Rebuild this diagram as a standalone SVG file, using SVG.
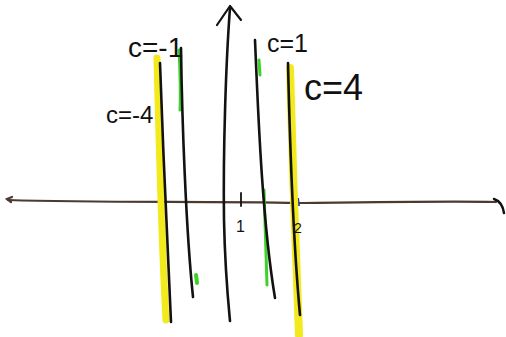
<svg xmlns="http://www.w3.org/2000/svg" width="506" height="337" viewBox="0 0 506 337">
<style>
.ink{fill:none;stroke:#141210;stroke-linecap:round;stroke-linejoin:round}
.axis{fill:none;stroke:#4a3a30;stroke-width:2.2;stroke-linecap:round}
.yel{fill:none;stroke:#f2ea1c;stroke-linecap:round}
.grn{fill:none;stroke:#3ed12a;stroke-linecap:round}
.lbl{font-family:"Liberation Sans","DejaVu Sans",sans-serif;fill:#111}
</style>
<rect width="506" height="337" fill="#fff"/>
<g id="x-axis">
<path class="axis" d="M8,200 C100,203 200,201 300,203 C380,202 450,201 496,202"/>
<path class="axis" d="M12,197 L7,199 L11,202"/>
<path class="ink" stroke-width="2.5" d="M494,199 C500,201 503,206 504,213"/>
<path class="ink" stroke-width="1.8" d="M241,193 L241,206"/>
<path stroke="#2a3aa0" stroke-width="2" d="M298,198 L299,206"/>
</g>
<g id="y-axis">
<path class="ink" stroke-width="2.6" d="M230,8 C226,60 223,150 224,220 C225,270 228,300 230,321"/>
<path class="ink" stroke-width="2.2" d="M217,25 L230,6 L241,20"/>
</g>
<g id="curve-c-neg4">
<path class="yel" stroke-width="7" d="M157,58 C159,140 162,250 166,320"/>
<path class="ink" stroke-width="2.6" d="M160,63 C163,150 168,260 171,322"/>
</g>
<g id="curve-c-neg1">
<path class="grn" stroke-width="3" d="M179,50 C180,70 181,90 180,110"/>
<path class="grn" stroke-width="4" d="M196,275 L197,283"/>
<path class="ink" stroke-width="2.6" d="M181,48 C182,120 186,230 193,297"/>
</g>
<g id="curve-c-1">
<path class="grn" stroke-width="3" d="M259,60 L260,75"/>
<path class="grn" stroke-width="3" d="M264,190 C265,230 266,260 267,285"/>
<path class="ink" stroke-width="2.6" d="M255,40 C258,110 262,220 275,298"/>
</g>
<g id="curve-c-4">
<path class="yel" stroke-width="8" d="M290,68 C292,150 296,260 299,335"/>
<path class="ink" stroke-width="2.6" d="M288,63 C290,150 294,250 300,315"/>
</g>
<g id="labels">
<text class="lbl" x="128" y="57" font-size="28">c=-1</text>
<text class="lbl" x="106" y="123" font-size="24">c=-4</text>
<text class="lbl" x="267" y="52" font-size="25">c=1</text>
<text class="lbl" x="304" y="100" font-size="36">c=4</text>
<text class="lbl" x="236" y="232" font-size="16">1</text>
<text class="lbl" x="294" y="233" font-size="14">2</text>
</g>
</svg>
